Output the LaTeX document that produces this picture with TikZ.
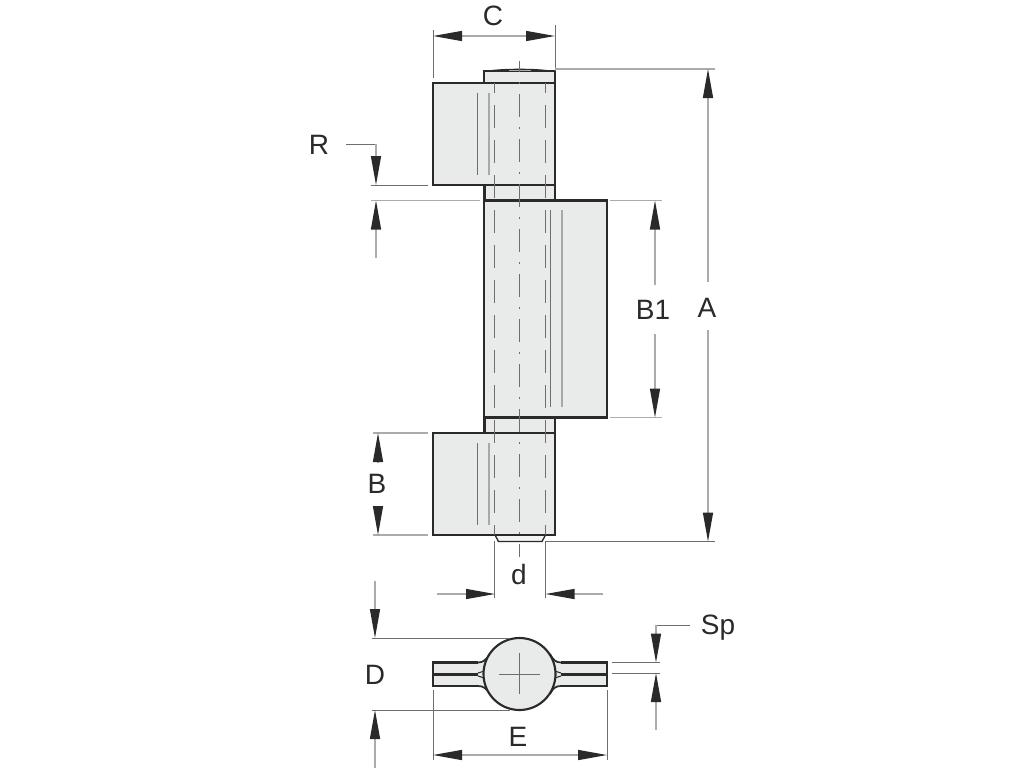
\documentclass[tikz,border=0pt]{standalone}
\usepackage{fontspec}
\setmainfont{Liberation Sans}
\usetikzlibrary{arrows.meta}
\definecolor{partfill}{HTML}{E9EAEA}
\definecolor{partline}{HTML}{2B2A2B}
\definecolor{dimline}{HTML}{ABABAB}
\definecolor{extline}{HTML}{6E6E6E}
\definecolor{softline}{HTML}{A8A8A8}
\tikzset{
  x=0.75pt,y=-0.75pt,
  part/.style={draw=partline,fill=partfill,line width=1.6pt,line join=miter},
  ext/.style={draw=extline,line width=0.55pt},
  dim/.style={draw=dimline,line width=1pt},
  tipE/.style={-{Triangle[length=21.75pt,width=7.5pt,fill=partline,color=partline]}},
  tipB/.style={{Triangle[length=21.75pt,width=7.5pt,fill=partline,color=partline]}-},
  tipBoth/.style={{Triangle[length=21.75pt,width=7.5pt,fill=partline,color=partline]}-{Triangle[length=21.75pt,width=7.5pt,fill=partline,color=partline]}},
  lab/.style={font=\fontsize{21}{25}\selectfont,text=partline,inner sep=1pt},
  thinl/.style={draw=extline,line width=0.5pt},
  softl/.style={draw=softline,line width=1.3pt},
  hidden/.style={draw=extline,line width=0.6pt,dash pattern=on 17.25pt off 9pt},
  centre/.style={draw=extline,line width=0.6pt,dash pattern=on 17.25pt off 7.5pt on 1.5pt off 7.5pt}
}
\begin{document}
\begin{tikzpicture}
\useasboundingbox[fill=white] (0,0) rectangle (1024,768);
% --- pin and barrels, side view
\path[part] (484,83) -- (484,71) -- (555,71) -- (555,83);
\draw[partline,line width=1.2pt] (490,71) .. controls (505,69) and (535,69) .. (548,71);
\draw[softline,line width=0.6pt] (509,70) -- (531,70);
\path[part] (484.5,185) rectangle (555,200.5);
\path[part] (484.5,417.5) rectangle (555,433);
\path[draw=partline,fill=partfill!50!white,line width=1pt] (495,535) -- (498.5,541.5) -- (542,541.5) -- (545.5,535);
\path[part] (433,83) rectangle (555,185);
\path[part] (484,200.5) rectangle (607,417.5);
\path[part] (433,433) rectangle (555,535);
% detail lines
\draw[thinl] (477,93) -- (477,175);
\draw[softl] (489,93) -- (489,175);
\draw[thinl] (477,443) -- (477,525);
\draw[softl] (489,443) -- (489,525);
\draw[thinl] (550,210) -- (550,407);
\draw[softl] (562,210) -- (562,407);
\draw[hidden,dash phase=9.75pt] (494.5,83) -- (494.5,535);
\draw[hidden,dash phase=9.75pt] (545.5,83) -- (545.5,535);
\draw[centre,dash phase=9pt] (519.3,61) -- (519.3,557);
% --- end view
\path[fill=partfill,draw=none] (433,662.5) rectangle (607,686);
\path[fill=partfill] (478,662.5) .. controls (483,662.5) and (486,660) .. (490,654) -- (550,654) .. controls (553,660) and (556,662.5) .. (561,662.5) -- (561,686) .. controls (556,686) and (553,688) .. (550,694) -- (490,694) .. controls (486,688) and (483,686) .. (478,686) -- cycle;
\draw[partline,line width=1.6pt] (478,662.5) -- (433,662.5) -- (433,686) -- (478,686);
\draw[partline,line width=1.6pt] (561,662.5) -- (607,662.5) -- (607,686) -- (561,686);
\draw[partline,line width=1.3pt] (478,662.5) .. controls (483,662.5) and (486,660) .. (490,654);
\draw[partline,line width=1.3pt] (478,686) .. controls (483,686) and (486,688) .. (490,694);
\draw[partline,line width=1.3pt] (561,662.5) .. controls (556,662.5) and (553,660) .. (550,654);
\draw[partline,line width=1.3pt] (561,686) .. controls (556,686) and (553,688) .. (550,694);
\fill[partline] (433,672.7) rectangle (478,676);
\fill[partline] (561,672.7) rectangle (607,676);
\draw[partline,line width=0.8pt] (478,673) -- (486,670.5) (478,676) -- (486,678.5);
\draw[partline,line width=0.8pt] (561,673) -- (553,670.5) (561,676) -- (553,678.5);
\node[circle,draw=partline,fill=partfill,line width=1.6pt,minimum size=54pt,inner sep=0pt] (hub) at (519.5,674) {};
\draw[thinl] (499,674) -- (540,674) (519.5,653) -- (519.5,694);
% --- coordinates
\coordinate (cL) at (433,36); \coordinate (cR) at (555,36);
\coordinate (aT) at (708,69); \coordinate (aB) at (708,541.5);
\coordinate (aG1) at (708,282); \coordinate (aG2) at (708,330);
\coordinate (b1T) at (655,200.5); \coordinate (b1B) at (655,417.5);
\coordinate (b1G1) at (655,285); \coordinate (b1G2) at (655,334);
\coordinate (bT) at (378,433); \coordinate (bB) at (378,535);
\coordinate (bG1) at (378,462); \coordinate (bG2) at (378,506);
\coordinate (rK) at (376,144); \coordinate (rS) at (346,144);
\coordinate (rA) at (376,185); \coordinate (rC) at (376,200.5); \coordinate (rE) at (376,258);
\coordinate (dL) at (495,594); \coordinate (dR) at (545.5,594);
\coordinate (dLe) at (437,594); \coordinate (dRe) at (603,594);
\coordinate (sK) at (656,625); \coordinate (sA) at (656,662.5); \coordinate (sC) at (656,673); \coordinate (sE) at (656,730);
\coordinate (sS) at (690,625);
\coordinate (dT0) at (375,581); \coordinate (dTa) at (375,638); \coordinate (dBa) at (375,710); \coordinate (dB0) at (375,768);
\coordinate (eL) at (433,755); \coordinate (eR) at (607,755);
% --- labels
\node[lab] (C) at (493,16) {C};
\node[lab] (A) at (707,308) {A};
\node[lab] (B1) at (653,310) {B1};
\node[lab] (B) at (377,484) {B};
\node[lab] (R) at (319,145) {R};
\node[lab] (d) at (519,574) {d};
\node[lab] (Sp) at (718,628) {Sp};
\node[lab] (D) at (375,675) {D};
\node[lab] (E) at (518,737) {E};
% --- extension lines
\draw[ext] (433,30) -- (433,78);
\draw[ext] (555,25) -- (555,71);
\draw[dim] (555,69) -- (715,69);
\draw[ext] (545,541.5) -- (715,541.5);
\draw[dim] (610,200.5) -- (662,200.5);
\draw[dim] (610,417.5) -- (662,417.5);
\draw[dim] (373,433) -- (428,433);
\draw[dim] (373,535) -- (428,535);
\draw[ext] (371,185) -- (428,185);
\draw[dim] (371,200.5) -- (480,200.5);
\draw[ext] (494.5,541) -- (494.5,598);
\draw[ext] (545.5,541) -- (545.5,598);
\draw[ext] (612,662.5) -- (660,662.5);
\draw[ext] (612,673) -- (660,673);
\draw[ext] (372,638) -- (510,638);
\draw[ext] (372,710) -- (510,710);
\draw[ext] (433,690) -- (433,760);
\draw[ext] (607,690) -- (607,760);
% --- dimension lines
\draw[dim,tipBoth] (cL) -- (cR);
\draw[dim,tipB] (aT) -- (aG1);
\draw[dim,tipE] (aG2) -- (aB);
\draw[dim,tipB] (b1T) -- (b1G1);
\draw[dim,tipE] (b1G2) -- (b1B);
\draw[dim,tipB] (bT) -- (bG1);
\draw[dim,tipE] (bG2) -- (bB);
\draw[ext] (rS) -- (rK);
\draw[dim,tipE] (rK) -- (rA);
\draw[dim,tipB] (rC) -- (rE);
\draw[dim,tipE] (dLe) -- (dL);
\draw[dim,tipE] (dRe) -- (dR);
\draw[ext] (sS) -- (sK);
\draw[dim,tipE] (sK) -- (sA);
\draw[dim,tipB] (sC) -- (sE);
\draw[dim,tipE] (dT0) -- (dTa);
\draw[dim,tipB] (dBa) -- (dB0);
\draw[dim,tipBoth] (eL) -- (eR);
\end{tikzpicture}
\end{document}
